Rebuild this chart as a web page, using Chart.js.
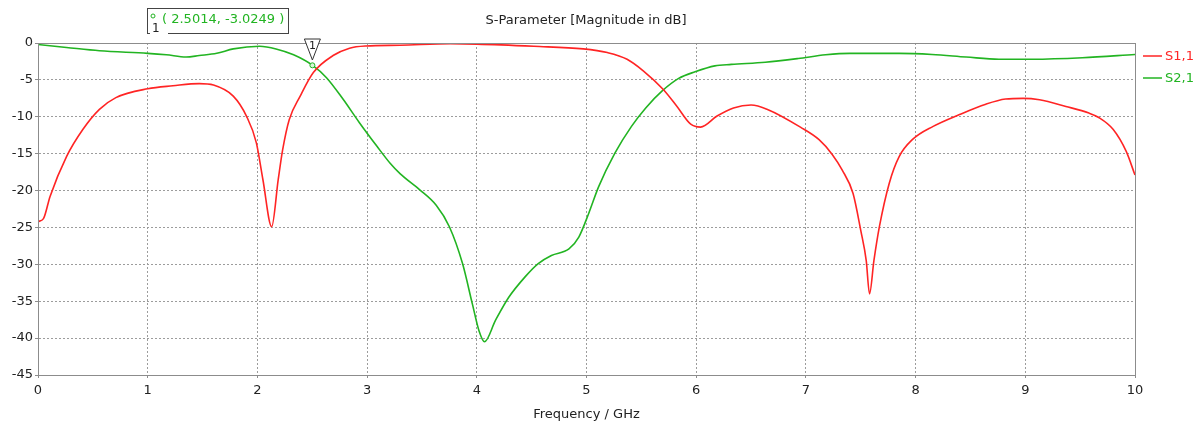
<!DOCTYPE html>
<html>
<head>
<meta charset="utf-8">
<script src="https://cdn.jsdelivr.net/npm/chart.js@4"></script>
<style>
  html, body { margin: 0; padding: 0; background: #fff; }
  #wrap { width: 1203px; height: 425px; position: relative; }
</style>
</head>
<body>
<div id="wrap"><canvas id="myChart"></canvas></div>
<script>
// S1,1
const s11Freq = [0, 0.05, 0.11, 0.26, 0.41, 0.56, 0.71, 1.0, 1.23, 1.47, 1.6, 1.78, 1.9, 1.99, 2.05, 2.13, 2.19, 2.23, 2.29, 2.39, 2.51, 2.69, 2.84, 2.99, 3.3,
  3.76, 4.0, 4.52, 4.97, 5.19, 5.37, 5.52, 5.7, 5.82, 5.95, 6.04, 6.19, 6.34, 6.5, 6.65, 6.95,
  7.12, 7.24, 7.33, 7.43, 7.5, 7.55, 7.58, 7.62, 7.67, 7.76, 7.85, 7.97, 8.16, 8.4, 8.64, 8.82, 8.98, 9.13, 9.37, 9.58, 9.67, 9.8, 9.92, 10.0];
const s11Mag = [-24.2, -23.8, -20.8, -15.4, -11.7, -9.0, -7.4, -6.2, -5.8, -5.5, -5.7, -7.2, -9.9, -13.5, -18.5, -24.9, -18.5, -14.5, -10.4, -7.2, -4.0, -1.7, -0.7, -0.4, -0.3,
  -0.1, -0.15, -0.45, -0.8, -1.3, -2.2, -3.8, -6.3, -8.5, -11.0, -11.4, -9.9, -8.8, -8.4, -9.0, -11.4,
  -13.1, -15.1, -17.2, -20.4, -25.4, -29.5, -34.0, -29.5, -24.9, -19.0, -15.4, -13.1, -11.3, -9.7, -8.3, -7.6, -7.5, -7.7, -8.6, -9.5, -10.1, -11.7, -14.7, -17.9];

// S2,1
const s21Freq = [0, 0.26, 0.56, 1.0, 1.17, 1.35, 1.47, 1.63, 1.78, 2.02, 2.17, 2.33, 2.5, 2.63, 2.78, 2.93, 3.09, 3.21, 3.3,
  3.48, 3.63, 3.75, 3.87, 3.96, 4.02, 4.07, 4.17, 4.29, 4.44, 4.56, 4.68, 4.84, 4.93, 5.02, 5.11, 5.26, 5.41, 5.54, 5.69, 5.84, 5.99, 6.17, 6.32, 6.63, 6.93,
  7.18, 7.4, 7.85, 8.15, 8.46, 8.76, 9.07, 9.52, 10.0];
const s21Mag = [-0.2, -0.6, -1.05, -1.4, -1.6, -1.9, -1.7, -1.4, -0.8, -0.45, -0.8, -1.6, -3.0, -4.7, -7.6, -10.8, -14.0, -16.3, -17.7,
  -19.9, -22.0, -24.9, -29.9, -35.4, -39.0, -40.5, -37.6, -34.5, -31.7, -29.9, -28.8, -27.9, -26.3, -23.1, -19.5, -14.9, -11.3, -8.8, -6.5, -4.8, -3.9, -3.1, -2.9, -2.6, -2.1,
  -1.6, -1.4, -1.4, -1.55, -1.9, -2.2, -2.2, -2.0, -1.55];

const seriesNames = ['S1,1', 'S2,1'];
const xTicks = [0, 1, 2, 3, 4, 5, 6, 7, 8, 9, 10];
const yTicks = [0, -5, -10, -15, -20, -25, -30, -35, -40, -45];
const marker1 = [2.5014, -3.0249];

const RED = '#ff2424';
const GREEN = '#22b422';
const FONT = 'DejaVu Sans';

function pts(xs, ys) {
  return xs.map((x, i) => ({ x: x, y: ys[i] }));
}

// title, box round the plot, legend, marker and its readout
const extras = {
  id: 'extras',
  afterDraw(chart) {
    const { ctx, chartArea: a, scales } = chart;
    ctx.save();

    // solid frame round the plot
    ctx.strokeStyle = '#8c8c8c';
    ctx.lineWidth = 1;
    ctx.strokeRect(a.left + 0.5, a.top + 0.5, a.right - a.left, a.bottom - a.top);

    // title
    ctx.fillStyle = '#222';
    ctx.font = '13px ' + FONT;
    ctx.textAlign = 'center';
    ctx.textBaseline = 'middle';
    ctx.fillText('S-Parameter [Magnitude in dB]', 586, 21);

    // legend
    ctx.textAlign = 'left';
    ctx.font = '13px ' + FONT;
    [RED, GREEN].forEach((c, i) => {
      const y = 56 + i * 22;
      ctx.strokeStyle = c;
      ctx.lineWidth = 1.5;
      ctx.beginPath();
      ctx.moveTo(a.right + 8, y);
      ctx.lineTo(a.right + 27, y);
      ctx.stroke();
      ctx.fillStyle = c;
      ctx.fillText(seriesNames[i], a.right + 30, y + 1);
    });

    // marker 1 on S2,1
    const mx = scales.x.getPixelForValue(marker1[0]);
    const my = scales.y.getPixelForValue(marker1[1]);
    ctx.strokeStyle = GREEN;
    ctx.lineWidth = 1;
    ctx.beginPath();
    ctx.arc(mx, my, 2.5, 0, Math.PI * 2);
    ctx.fillStyle = '#d8f5d8';
    ctx.fill();
    ctx.stroke();

    // triangle flag at the top
    ctx.beginPath();
    ctx.moveTo(mx - 8, a.top - 4);
    ctx.lineTo(mx + 8, a.top - 4);
    ctx.lineTo(mx, a.top + 17);
    ctx.closePath();
    ctx.fillStyle = '#fff';
    ctx.fill();
    ctx.strokeStyle = '#333';
    ctx.lineWidth = 1;
    ctx.stroke();
    ctx.fillStyle = '#222';
    ctx.font = '11px ' + FONT;
    ctx.textAlign = 'center';
    ctx.fillText('1', mx, a.top + 3);

    // readout box
    ctx.fillStyle = '#fff';
    ctx.fillRect(147, 8, 141, 25);
    ctx.strokeStyle = '#444';
    ctx.strokeRect(147.5, 8.5, 141, 25);
    ctx.beginPath();
    ctx.arc(153, 16, 2, 0, Math.PI * 2);
    ctx.strokeStyle = GREEN;
    ctx.stroke();
    ctx.fillStyle = '#fff';
    ctx.fillRect(150, 24, 18, 12);
    ctx.fillStyle = '#222';
    ctx.font = '12px ' + FONT;
    ctx.textAlign = 'left';
    ctx.fillText('1', 152, 29);
    ctx.fillStyle = GREEN;
    ctx.font = '13px ' + FONT;
    ctx.fillText('( ' + marker1[0].toFixed(4) + ', ' + marker1[1].toFixed(4) + ' )', 162, 20);

    ctx.restore();
  }
};

const ctx = document.getElementById('myChart').getContext('2d');

const chart = new Chart(ctx, {
  type: 'line',
  data: {
    datasets: [
      { label: seriesNames[0], data: pts(s11Freq, s11Mag), borderColor: RED, backgroundColor: RED, borderWidth: 1.6, pointRadius: 0, tension: 0.3, cubicInterpolationMode: 'monotone' },
      { label: seriesNames[1], data: pts(s21Freq, s21Mag), borderColor: GREEN, backgroundColor: GREEN, borderWidth: 1.6, pointRadius: 0, tension: 0.3, cubicInterpolationMode: 'monotone' }
    ]
  },
  options: {
    responsive: true,
    maintainAspectRatio: false,
    animation: false,
    layout: { padding: { top: 43, right: 68, left: 0, bottom: 0 } },
    plugins: {
      legend: { display: false },
      tooltip: { enabled: false }
    },
    scales: {
      x: {
        type: 'linear',
        min: 0,
        max: 10,
        afterBuildTicks: (s) => { s.ticks = xTicks.map(v => ({ value: v })); },
        afterFit: (s) => { s.height = 50; },
        ticks: { color: '#222', font: { family: FONT, size: 13 }, padding: 5, maxRotation: 0 },
        grid: { color: '#9c9c9c', tickLength: 3, tickColor: '#8c8c8c' },
        border: { color: '#8c8c8c', dash: [2, 2] },
        title: { display: true, text: 'Frequency / GHz', color: '#222', font: { family: FONT, size: 13 }, padding: { top: 4, bottom: 3 } }
      },
      y: {
        min: -45,
        max: 0,
        afterBuildTicks: (s) => { s.ticks = yTicks.map(v => ({ value: v })); },
        afterFit: (s) => { s.width = 38; },
        ticks: { color: '#222', font: { family: FONT, size: 13 }, padding: 2 },
        grid: { color: '#9c9c9c', tickLength: 3, tickColor: '#8c8c8c' },
        border: { color: '#8c8c8c', dash: [2, 2] }
      }
    }
  },
  plugins: [extras]
});
</script>
</body>
</html>
